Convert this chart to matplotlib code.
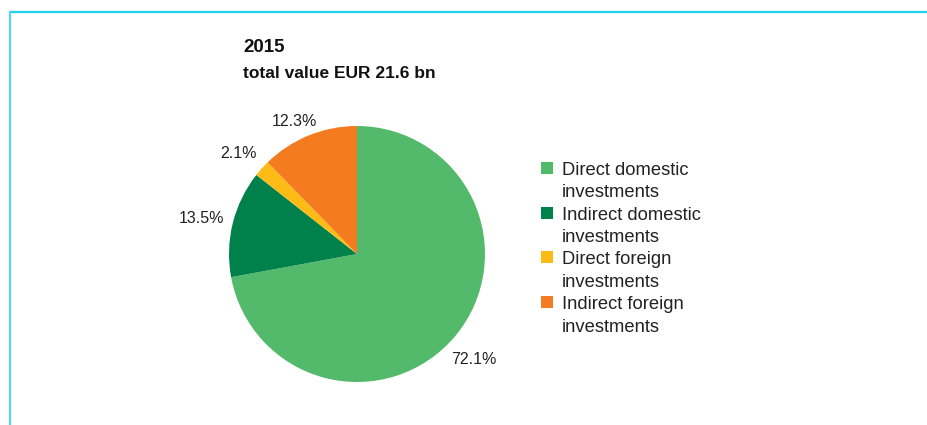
import matplotlib
matplotlib.use('Agg')
import matplotlib.pyplot as plt
from matplotlib.patches import Rectangle
from matplotlib.lines import Line2D

# Data
categories = ['Direct domestic\ninvestments', 'Indirect domestic\ninvestments',
              'Direct foreign\ninvestments', 'Indirect foreign\ninvestments']
shares = [72.1, 13.5, 2.1, 12.3]
colors = ['#54BA6B', '#00804A', '#FDBB16', '#F47B20']
title_year = '2015'
title_total = 'total value EUR 21.6 bn'
# label positions (in pie radius units) as placed in the original
label_pos = [(0.914, -0.828), (-1.211, 0.281), (-0.922, 0.789), (-0.492, 1.039)]

plt.rcParams['font.family'] = ['Liberation Sans', 'DejaVu Sans']

W, H = 927, 425
fig = plt.figure(figsize=(W / 100, H / 100), dpi=100)

# frame lines (top and left)
fig.add_artist(Line2D([10 / W, 1], [1 - 12 / H, 1 - 12 / H], transform=fig.transFigure,
                      color='#22CFEF', lw=1.6))
fig.add_artist(Line2D([10 / W, 10 / W], [0, 1 - 12 / H], transform=fig.transFigure,
                      color='#55D6F2', lw=1.6))

# pie axes: centre (357, 254) px, radius 128 px
cx, cy, r = 357, 254, 128
ax = fig.add_axes([(cx - r) / W, (H - cy - r) / H, 2 * r / W, 2 * r / H])
wedges, texts, autotexts = ax.pie(shares, colors=colors, startangle=90, counterclock=False,
                                  autopct=lambda p: f'{p:.1f}%', pctdistance=1.22,
                                  textprops={'fontsize': 11.5, 'color': '#222222'},
                                  wedgeprops={'linewidth': 0})
for t, pos in zip(autotexts, label_pos):
    t.set_position(pos)
ax.set_xlim(-1, 1)
ax.set_ylim(-1, 1)

# titles
fig.text(243 / W, 1 - 47 / H, title_year, fontsize=13.5, fontweight='bold',
         va='center', ha='left', color='#111111')
fig.text(243 / W, 1 - 73 / H, title_total, fontsize=12.5, fontweight='bold',
         va='center', ha='left', color='#111111')

# legend
y0 = 168
step = 44.7
for i, (lab, col) in enumerate(zip(categories, colors)):
    y = y0 + i * step
    fig.add_artist(Rectangle((541 / W, 1 - (y + 6) / H), 12 / W, 12 / H,
                             transform=fig.transFigure, color=col, lw=0))
    fig.text(562 / W, 1 - (y - 6) / H, lab, fontsize=13.2, va='top', ha='left',
             linespacing=1.42, color='#222222')

fig.savefig('out.png', dpi=100)
